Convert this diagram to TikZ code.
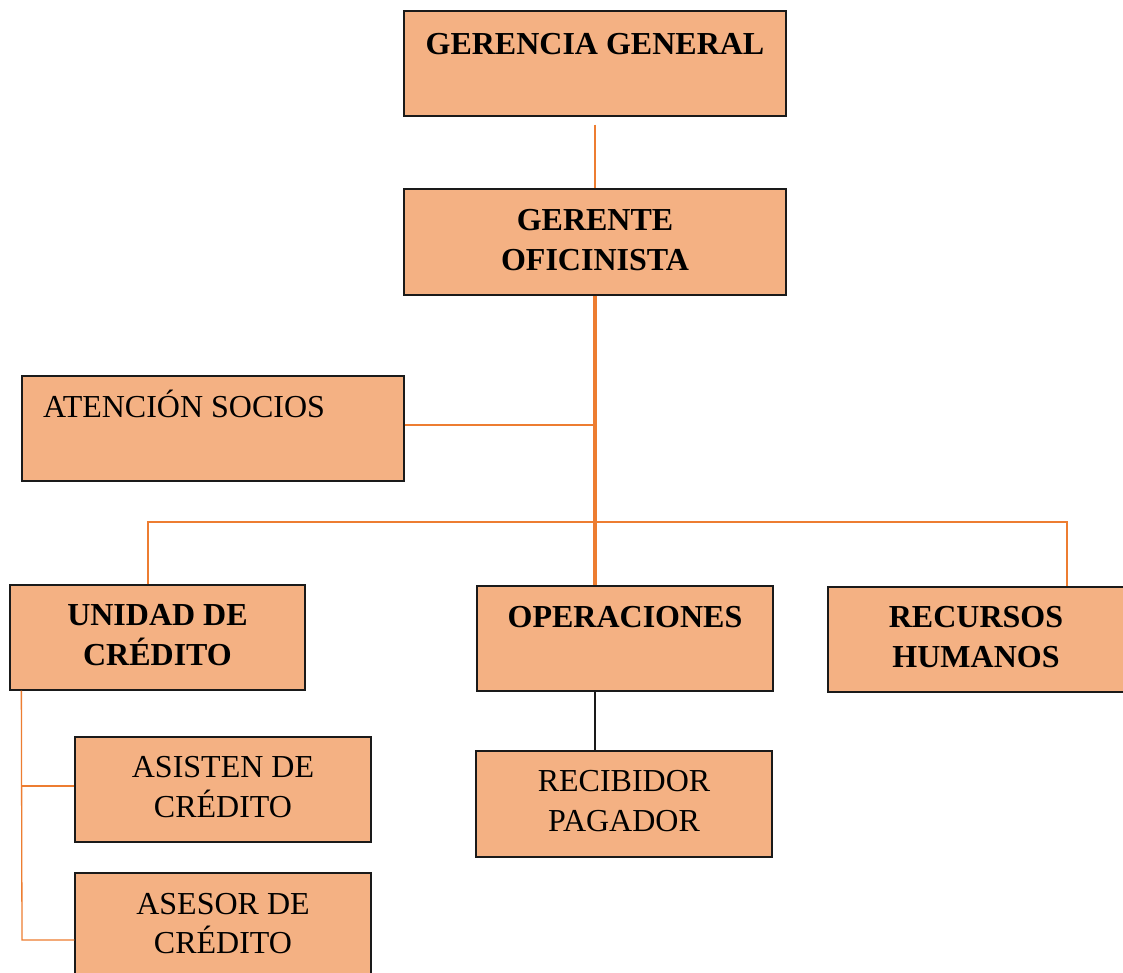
\documentclass[tikz,border=0pt]{standalone}
\usepackage{fontspec}
\setmainfont{Liberation Serif}
\usetikzlibrary{calc}
\definecolor{boxfill}{HTML}{F4B183}
\definecolor{lineorange}{HTML}{ED7D31}
\definecolor{boxdraw}{HTML}{1A1A1A}
\tikzset{
  orgbox/.style={draw=boxdraw, line width=1.3pt, fill=boxfill, inner sep=0pt},
  txt/.style={anchor=base, inner sep=0pt, font=\fontsize{32}{40}\selectfont},
  btxt/.style={txt, font=\fontsize{32}{40}\selectfont\bfseries},
  conn/.style={draw=lineorange, line width=1.3pt},
  thickconn/.style={draw=lineorange, line width=3.6pt},
  blackconn/.style={draw=boxdraw, line width=1.3pt}
}
\newcommand{\orgrect}[5]{% name, x1, y1, x2, y2
  \node[orgbox, minimum width={#4-#2}, minimum height={#5-#3}] (#1) at ({(#2+#4)/2},{(#3+#5)/2}) {};}
\begin{document}
\begin{tikzpicture}[x=1pt,y=-1pt]
\clip (0,0) rectangle (1123,972);
\fill[white] (0,0) rectangle (1123,972);
% boxes
\orgrect{gg}{404}{11}{786}{116}
\orgrect{go}{404}{189}{786}{295}
\orgrect{at}{22}{376}{404}{481}
\orgrect{uc}{10}{585}{305}{690}
\orgrect{op}{477}{586}{773}{691}
\orgrect{rh}{828}{587}{1130}{692}
\orgrect{rp}{476}{751}{772}{857}
\orgrect{as}{75}{737}{371}{842}
\orgrect{ac}{75}{873}{371}{980}
% texts
\node[btxt] (ggt) at (595,54) {GERENCIA GENERAL};
\node[btxt] (got1) at (595,230) {GERENTE};
\node[btxt] (got2) at (595,270) {OFICINISTA};
\node[txt, anchor=base west] (att) at (43,417) {ATENCIÓN SOCIOS};
\node[btxt] (uct1) at (157.5,625) {UNIDAD DE};
\node[btxt] (uct2) at (157.5,665) {CRÉDITO};
\node[btxt] (opt) at (625,627) {OPERACIONES};
\node[btxt] (rht1) at (976,627) {RECURSOS};
\node[btxt] (rht2) at (976,667) {HUMANOS};
\node[txt] (rpt1) at (624,791) {RECIBIDOR};
\node[txt] (rpt2) at (624,831) {PAGADOR};
\node[txt] (ast1) at (223,777) {ASISTEN DE};
\node[txt] (ast2) at (223,817) {CRÉDITO};
\node[txt] (act1) at (223,914) {ASESOR DE};
\node[txt] (act2) at (223,953) {CRÉDITO};
% connectors
\draw[conn, shorten <=8pt] (gg.south) -- (go.north);
\coordinate (atj) at ($(at.east)+(0,-3.5)$);
\draw[conn] (atj) -- (atj -| go.south);
\coordinate (busL) at (148,522);
\coordinate (busR) at (1067,522);
\draw[conn] (uc.north -| busL) -- (busL) -- (busR) -- (busR |- rh.north);
\draw[thickconn] (go.south) -- (go.south |- op.north);
\draw[blackconn] (go.south |- op.south) -- (go.south |- rp.north);
\coordinate (lvtop) at ($(uc.south west)+(12,0)$);
\coordinate (j2) at (22,940);
\draw[conn] (lvtop) -- (j2) -- (j2 -| ac.west);
\coordinate (asj) at ($(as.west)+(0,-3.5)$);
\draw[conn] (lvtop |- asj) -- (asj);
\end{tikzpicture}
\end{document}
